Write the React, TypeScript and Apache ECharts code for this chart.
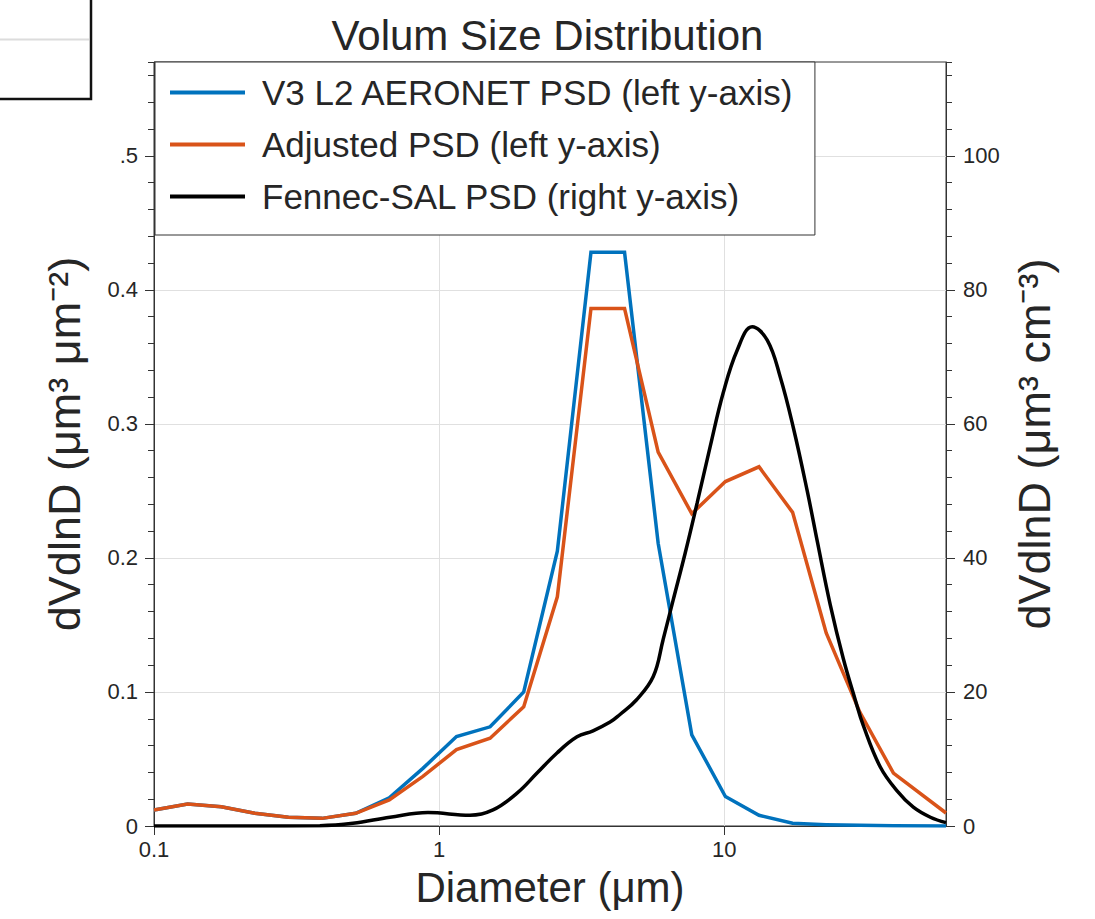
import React, { useEffect, useRef } from 'react';
import * as echarts from 'echarts';

const binDiameters = [0.1, 0.1312, 0.1721, 0.2258, 0.2962, 0.3886, 0.5098, 0.6688, 0.8774, 1.151, 1.51, 1.981, 2.599, 3.41, 4.473, 5.868, 7.699, 10.1, 13.25, 17.38, 22.8, 29.91, 39.24, 60];
const aeronetPSD = [0.012, 0.0164, 0.0144, 0.0095, 0.0065, 0.0057, 0.0095, 0.021, 0.043, 0.0667, 0.074, 0.1, 0.205, 0.428, 0.428, 0.211, 0.068, 0.022, 0.008, 0.002, 0.001, 0.0005, 0.0002, 0];
const adjustedPSD = [0.012, 0.0164, 0.0144, 0.0095, 0.0065, 0.0057, 0.0095, 0.0194, 0.037, 0.057, 0.0655, 0.089, 0.171, 0.386, 0.386, 0.279, 0.233, 0.257, 0.268, 0.234, 0.144, 0.085, 0.0395, 0.0097];

// Fennec-SAL curve (right axis)
const fennecDiameters = [0.1, 0.2168, 0.3817, 0.4983, 0.6724, 0.9141, 1.283, 1.546, 1.877, 2.206, 2.592, 3.047, 3.468, 3.98, 4.3, 4.92, 5.64, 6.107, 6.622, 7.297, 8.04, 8.931, 9.92, 11.11, 12.54, 14.16, 15.73, 17.47, 19.56, 21.21, 23.56, 26.17, 28.84, 30.76, 35.29, 40.49, 46.08, 52.88, 60];
const fennecPSD = [0, 0, 0.05, 0.4, 1.3, 2.0, 1.6, 2.4, 4.9, 7.9, 10.9, 13.3, 14.2, 15.5, 16.6, 18.8, 22.3, 27.8, 33.7, 40.7, 48.2, 56.6, 64.6, 71.0, 74.5, 72.5, 67, 59.5, 50, 42.5, 33, 25, 18.8, 15, 8.8, 5.2, 2.8, 1.3, 0.5];

const xTickValues = [0.1, 1, 10];
const leftTickValues = [0, 0.1, 0.2, 0.3, 0.4, 0.5];
const rightTickValues = [0, 20, 40, 60, 80, 100];

const seriesNames = ['V3 L2 AERONET PSD (left y-axis)', 'Adjusted PSD (left y-axis)', 'Fennec-SAL PSD (right y-axis)'];
const seriesColors = ['#0072BD', '#D95319', '#000000'];

const FONT = '"Liberation Sans", Arial, sans-serif';
const TXT = '#262626';
const AXIS = '#333333';
const GRID = '#e0e0e0';

export default function App() {
  const ref = useRef<HTMLDivElement>(null);
  useEffect(() => {
    const chart = echarts.init(ref.current!, null, { renderer: 'svg' });
    const pair = (xs: number[], ys: number[]) => xs.map((x, i) => [x, ys[i]]);
    const yNameStyle = { fontFamily: FONT, fontSize: 45, color: TXT };
    const labelStyle = { fontFamily: FONT, fontSize: 22, color: TXT };
    chart.setOption({
      animation: false,
      backgroundColor: '#ffffff',
      title: {
        text: 'Volum Size Distribution',
        left: 'center',
        top: 9,
        textStyle: { fontFamily: FONT, fontSize: 42, fontWeight: 'normal', color: TXT },
      },
      legend: {
        orient: 'vertical',
        left: 155,
        top: 62,
        backgroundColor: '#ffffff',
        borderColor: AXIS,
        borderWidth: 1,
        padding: [13, 20, 21, 15],
        itemWidth: 75,
        itemHeight: 4,
        itemGap: 17,
        icon: 'rect',
        textStyle: { fontFamily: FONT, fontSize: 35, color: TXT, lineHeight: 32, padding: [0, 0, 0, 12] },
        data: seriesNames,
      },
      grid: { left: 154, right: 149, top: 62, bottom: 93, show: true, borderColor: AXIS, borderWidth: 1, backgroundColor: 'transparent' },
      xAxis: {
        type: 'log',
        logBase: 10,
        min: 0.1,
        max: 60,
        axisLine: { show: true, onZero: false, lineStyle: { color: AXIS, width: 1 } },
        axisTick: { show: true, inside: false, length: 9, customValues: xTickValues, lineStyle: { color: AXIS } },
        axisLabel: { ...labelStyle, customValues: xTickValues, margin: 12, formatter: (v: number) => String(v) },
        splitLine: { show: true, lineStyle: { color: GRID, width: 1 } },
        minorTick: { show: false },
        name: 'Diameter (μm)',
        nameLocation: 'middle',
        nameGap: 40,
        nameTextStyle: { fontFamily: FONT, fontSize: 42, color: TXT },
      },
      yAxis: [
        {
          type: 'value',
          position: 'left',
          min: 0,
          max: 0.57,
          axisLine: { show: true, lineStyle: { color: AXIS } },
          axisTick: { show: true, length: 9, customValues: leftTickValues, lineStyle: { color: AXIS } },
          axisLabel: {
            ...labelStyle,
            customValues: leftTickValues,
            margin: 16,
            formatter: (v: number) => (v === 0 ? '0' : v === 0.5 ? '.5' : v.toFixed(1)),
          },
          splitLine: { show: true, lineStyle: { color: GRID, width: 1 } },
          name: 'dVdlnD (μm³ μm⁻²)',
          nameLocation: 'middle',
          nameGap: 67,
          nameTextStyle: yNameStyle,
        },
        {
          type: 'value',
          position: 'left',
          min: 0,
          max: 0.57,
          interval: 0.02,
          axisLine: { show: false },
          axisTick: { show: true, length: 6, lineStyle: { color: AXIS } },
          axisLabel: { show: false },
          splitLine: { show: false },
        },
        {
          type: 'value',
          position: 'right',
          min: 0,
          max: 114,
          axisLine: { show: true, lineStyle: { color: AXIS } },
          axisTick: { show: true, length: 9, customValues: rightTickValues, lineStyle: { color: AXIS } },
          axisLabel: { ...labelStyle, customValues: rightTickValues, margin: 17 },
          splitLine: { show: false },
          name: 'dVdlnD (μm³ cm⁻³)',
          nameLocation: 'middle',
          nameGap: 66,
          nameTextStyle: yNameStyle,
        },
        {
          type: 'value',
          position: 'right',
          min: 0,
          max: 114,
          interval: 4,
          axisLine: { show: false },
          axisTick: { show: true, length: 6, lineStyle: { color: AXIS } },
          axisLabel: { show: false },
          splitLine: { show: false },
        },
      ],
      series: [
        {
          name: seriesNames[0],
          type: 'line',
          yAxisIndex: 0,
          data: pair(binDiameters, aeronetPSD),
          symbol: 'none',
          showSymbol: false,
          color: seriesColors[0],
          lineStyle: { color: seriesColors[0], width: 3.5, join: 'miter' },
        },
        {
          name: seriesNames[1],
          type: 'line',
          yAxisIndex: 0,
          data: pair(binDiameters, adjustedPSD),
          symbol: 'none',
          showSymbol: false,
          color: seriesColors[1],
          lineStyle: { color: seriesColors[1], width: 3.5, join: 'miter' },
        },
        {
          name: seriesNames[2],
          type: 'line',
          yAxisIndex: 2,
          data: pair(fennecDiameters, fennecPSD),
          symbol: 'none',
          showSymbol: false,
          smooth: 0.4,
          color: seriesColors[2],
          lineStyle: { color: seriesColors[2], width: 3.5 },
        },
      ],
      graphic: [
        {
          type: 'rect',
          z: 100,
          shape: { x: -4, y: -4, width: 95, height: 103 },
          style: { fill: '#ffffff', stroke: '#111111', lineWidth: 2.5 },
        },
        {
          type: 'line',
          z: 101,
          shape: { x1: 0, y1: 39.5, x2: 89, y2: 39.5 },
          style: { stroke: '#dcdcdc', lineWidth: 2 },
        },
      ],
    });
    return () => chart.dispose();
  }, []);
  return <div ref={ref} style={{ position: 'absolute', left: 0, top: 0, width: 1095, height: 919 }} />;
}
